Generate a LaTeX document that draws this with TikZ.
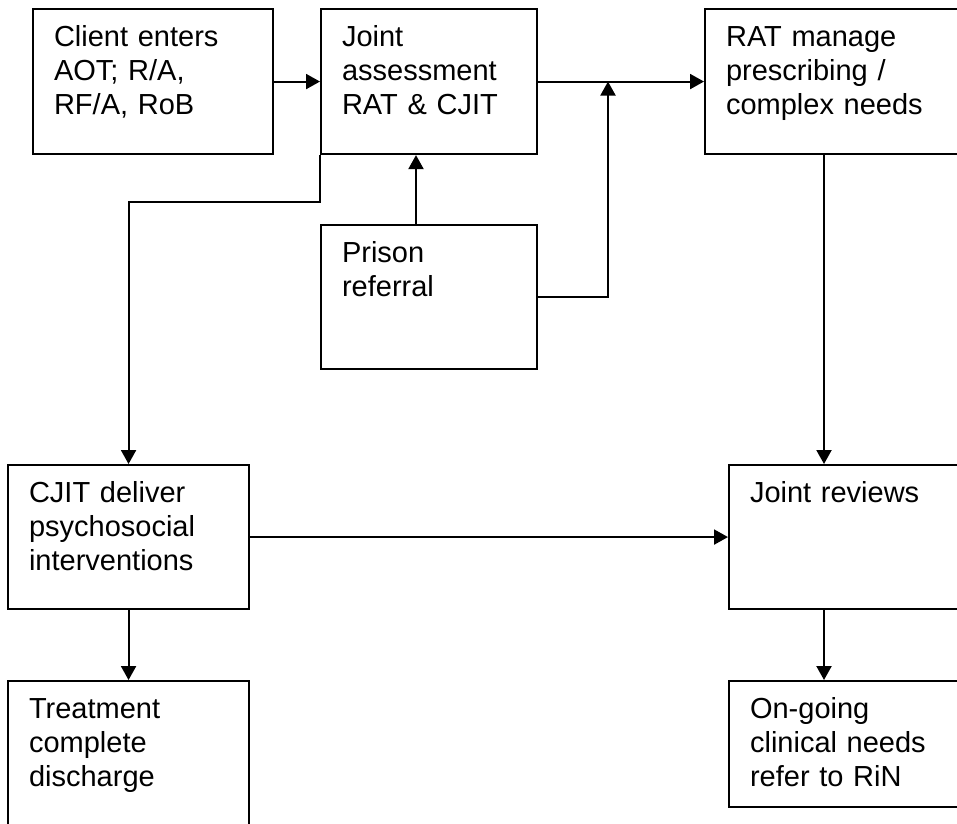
\documentclass[tikz,border=0pt]{standalone}
\usepackage{fontspec}
\setmainfont{Liberation Sans}
\usetikzlibrary{arrows.meta,calc}

\begin{document}
\begin{tikzpicture}[x=1pt, y=-1pt,
  box/.style={draw, line width=2.1pt, rectangle, anchor=north west,
    inner xsep=21pt, inner ysep=0pt, align=left,
    font=\fontsize{29pt}{34pt}\selectfont, text height=37.5pt},
  arr/.style={line width=2.1pt, -{Triangle[length=14pt, width=15pt]}}]

  % page frame; boxes on the right and bottom run past it
  \path[use as bounding box, clip] (0,0) rectangle (957,823);

  % top row
  \node[box, text width=198pt, text depth=107.5pt] (b1) at (32,8)
    {Client enters\\AOT; R/A,\\RF/A, RoB};
  \node[box, text width=174pt, text depth=107.5pt] (b2) at (320,8)
    {Joint\\assessment\\RAT \& CJIT};
  \node[box, text width=234pt, text depth=107.5pt] (b3) at (704,8)
    {RAT manage\\prescribing /\\complex needs};

  % prison referral
  \node[box, text width=174pt, text depth=106.5pt] (b4) at (320,224)
    {Prison\\referral};

  % middle row
  \node[box, text width=199pt, text depth=106.5pt] (b5) at (7,464)
    {CJIT deliver\\psychosocial\\interventions};
  \node[box, text width=210pt, text depth=106.5pt] (b6) at (728,464)
    {Joint reviews};

  % bottom row
  \node[box, text width=199pt, text depth=112.5pt] (b7) at (7,680)
    {Treatment\\complete\\discharge};
  \node[box, text width=210pt, text depth=88.5pt] (b8) at (728,680)
    {On-going\\clinical needs\\refer to RiN};

  % junction on the assessment line and off-centre connector ends
  \coordinate (j) at (608,0 |- b2.east);
  \coordinate (p) at ($(b4.north west)+(96,0)$);
  \coordinate (r) at ($(b3.south west)+(120,0)$);
  \coordinate (q) at ($(b6.south west)+(96,0)$);

  % connectors
  \draw[arr] (b1.east) -- (b2.west);
  \draw[arr] (b2.east) -- (b3.west);
  \draw[arr] (p) -- (p |- b2.south);
  \draw[arr] (b4.east) -| (j);
  \draw[arr] (b2.south west) -- ++(0,47) -| (b5.north);
  \draw[arr] (r) -- (r |- b6.north);
  \draw[arr] (b5.east) -- (b6.west);
  \draw[arr] (b5.south) -- (b7.north);
  \draw[arr] (q) -- (q |- b8.north);
\end{tikzpicture}
\end{document}
